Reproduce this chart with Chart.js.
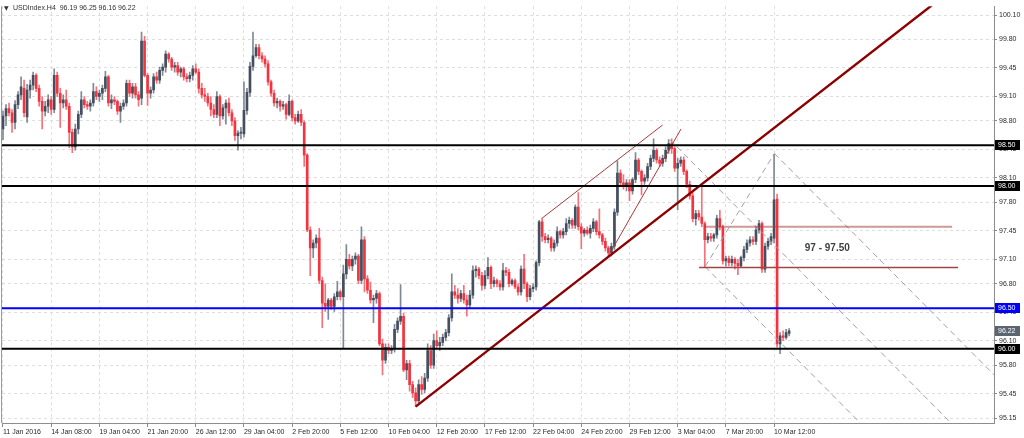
<!DOCTYPE html>
<html><head><meta charset="utf-8">
<script src="https://cdn.jsdelivr.net/npm/chart.js@4.4.1/dist/chart.umd.min.js"></script>
<style>html,body{margin:0;padding:0;background:#fff;}#wrap{width:1024px;height:438px;}</style>
</head><body><div id="wrap"><canvas id="c" width="1024" height="438"></canvas></div>
<script>
const symbol = 'USDIndex.H4';
const opens = [
98.70,98.86,98.95,98.90,98.78,99.00,99.12,99.20,98.85,99.18,
99.24,99.36,99.20,99.04,98.92,98.98,99.06,98.94,99.36,99.14,
99.02,99.06,98.98,98.66,98.48,98.70,98.88,99.06,99.00,98.98,
99.02,99.16,99.10,99.14,99.20,99.34,99.02,99.06,99.04,98.92,
98.98,99.02,99.26,99.14,99.22,99.12,99.08,99.78,99.36,99.14,
99.18,99.34,99.30,99.42,99.46,99.62,99.56,99.46,99.48,99.40,
99.44,99.34,99.32,99.36,99.44,99.40,99.20,99.12,99.10,99.02,
98.94,98.88,99.10,98.86,98.96,99.02,98.90,98.80,98.62,98.65,
98.64,98.93,99.15,99.47,99.60,99.70,99.60,99.56,99.50,99.28,
99.14,99.02,99.04,98.98,99.00,98.88,99.04,98.84,98.80,98.88,
98.78,98.38,97.46,97.24,97.30,97.36,96.84,96.56,96.52,96.60,
96.52,96.64,96.70,96.64,96.92,97.10,97.02,97.10,97.14,96.84,
97.34,96.86,96.72,96.60,96.62,96.68,96.06,95.86,96.02,95.98,
96.00,96.24,96.34,96.40,95.74,95.82,95.56,95.46,95.36,95.56,
95.50,95.64,95.98,95.80,96.10,96.04,96.08,96.14,96.20,96.38,
96.70,96.66,96.62,96.68,96.60,96.54,96.66,96.96,96.98,96.90,
96.78,96.90,97.00,96.80,96.84,96.80,96.76,96.96,96.94,96.80,
96.84,96.76,96.70,96.98,96.80,96.64,96.74,96.76,97.06,97.56,
97.38,97.34,97.36,97.24,97.30,97.44,97.40,97.44,97.54,97.58,
97.52,97.74,97.50,97.42,97.46,97.42,97.48,97.56,97.44,97.40,
97.32,97.24,97.18,97.26,97.68,98.16,98.04,98.00,98.04,97.94,
98.08,98.32,98.18,98.06,98.10,98.24,98.34,98.44,98.32,98.28,
98.34,98.44,98.52,98.46,98.22,98.28,98.32,98.18,98.02,97.88,
97.60,97.66,97.62,97.54,97.34,97.38,97.36,97.40,97.60,97.50,
97.08,97.11,97.06,97.10,97.05,97.02,97.12,97.22,97.30,97.34,
97.32,97.46,97.54,96.98,97.26,97.32,97.36,97.84,96.06,96.16,
96.14,96.19];
const highs = [
98.92,99.00,99.02,98.94,99.05,99.16,99.34,99.30,99.25,99.30,
99.40,99.38,99.24,99.10,99.04,99.12,99.10,99.44,99.40,99.20,
99.12,99.18,99.02,98.70,98.76,98.92,99.16,99.10,99.04,99.06,
99.26,99.22,99.18,99.24,99.41,99.36,99.12,99.10,99.06,99.02,
99.06,99.30,99.30,99.26,99.26,99.16,99.89,99.84,99.38,99.22,
99.38,99.40,99.46,99.50,99.66,99.64,99.58,99.52,99.52,99.46,
99.46,99.38,99.40,99.48,99.50,99.44,99.26,99.20,99.14,99.10,
99.00,99.16,99.12,99.00,99.06,99.08,98.94,98.84,98.68,98.72,
99.28,99.20,99.52,99.89,99.74,99.74,99.64,99.60,99.54,99.30,
99.18,99.08,99.06,99.04,99.02,99.12,99.06,98.88,98.92,98.94,
98.80,98.40,97.50,97.34,97.40,97.48,96.88,96.80,96.62,96.62,
96.68,96.83,96.72,97.03,97.28,97.16,97.14,97.18,97.16,97.50,
97.38,96.90,96.82,96.66,96.72,96.70,96.12,96.06,96.06,96.04,
96.30,96.38,96.79,96.44,95.86,95.86,95.60,95.52,95.62,95.66,
95.70,96.06,96.04,96.18,96.22,96.14,96.18,96.24,96.42,96.92,
96.78,96.74,96.72,96.78,96.66,96.72,97.02,97.02,97.00,96.94,
96.96,97.12,97.02,96.88,96.86,96.84,97.05,97.00,96.98,96.86,
96.86,96.80,97.02,97.16,96.82,96.78,96.80,97.08,97.58,97.60,
97.42,97.40,97.38,97.34,97.50,97.46,97.48,97.60,97.62,97.60,
97.77,97.92,97.54,97.48,97.50,97.52,97.60,97.58,97.72,97.42,
97.36,97.26,97.30,97.72,98.31,98.20,98.14,98.08,98.08,98.10,
98.41,98.34,98.20,98.14,98.28,98.38,98.58,98.46,98.36,98.38,
98.48,98.57,98.58,98.48,98.34,98.36,98.36,98.20,98.06,97.92,
97.70,97.70,98.02,97.56,97.42,97.42,97.42,97.64,97.70,97.52,
97.14,97.14,97.14,97.12,97.10,97.14,97.26,97.34,97.38,97.38,
97.50,97.58,97.56,97.30,97.36,97.42,98.39,97.90,96.20,96.22,
96.24,96.25];
const lows = [
98.57,98.74,98.86,98.66,98.70,98.95,99.06,98.85,98.78,99.08,
99.18,99.16,98.98,98.70,98.86,98.90,98.88,98.90,99.10,98.72,
98.96,98.94,98.47,98.41,98.44,98.64,98.84,98.96,98.94,98.92,
98.98,99.06,99.04,99.06,99.16,98.98,98.95,99.00,98.88,98.78,
98.94,98.98,99.10,99.08,99.08,98.98,99.00,99.34,98.99,99.08,
99.14,99.26,99.26,99.36,99.40,99.52,99.42,99.40,99.36,99.34,
99.30,99.28,99.28,99.30,99.38,99.14,99.08,99.04,98.98,98.86,
98.84,98.84,98.74,98.82,98.76,98.86,98.74,98.56,98.44,98.58,
98.60,98.88,99.10,99.42,99.58,99.56,99.52,99.46,99.24,99.10,
98.98,98.96,98.92,98.94,98.82,98.86,98.80,98.76,98.78,98.74,
98.24,97.44,96.90,97.12,97.24,96.80,96.26,96.46,96.36,96.48,
96.46,96.60,96.60,96.01,96.86,96.98,96.96,97.04,96.80,96.80,
96.70,96.68,96.56,96.32,96.56,96.04,95.68,95.82,95.94,95.94,
95.96,96.20,96.30,95.72,95.62,95.48,95.40,95.29,95.32,95.44,
95.46,95.60,95.76,95.76,96.00,95.98,96.04,96.10,96.16,96.34,
96.62,96.56,96.58,96.56,96.40,96.50,96.62,96.88,96.86,96.72,
96.74,96.86,96.74,96.76,96.76,96.72,96.72,96.90,96.76,96.78,
96.74,96.66,96.66,96.74,96.58,96.60,96.70,96.72,97.02,97.32,
97.30,97.30,97.20,97.20,97.26,97.36,97.36,97.40,97.48,97.48,
97.48,97.46,97.23,97.38,97.40,97.36,97.44,97.40,97.36,97.28,
97.20,97.14,97.14,97.22,97.64,98.00,97.96,97.94,97.82,97.90,
98.04,98.14,97.89,98.02,98.06,98.20,98.30,98.28,98.24,98.24,
98.30,98.40,98.40,98.18,97.71,98.24,98.14,97.98,97.84,97.56,
97.52,97.58,97.50,97.00,97.30,97.32,97.32,97.36,97.46,97.04,
97.02,97.02,97.02,96.98,96.91,97.00,97.08,97.18,97.26,97.28,
97.28,97.42,96.94,96.94,97.22,97.28,97.30,96.02,95.94,96.10,
96.12,96.16];
const closes = [
98.86,98.95,98.90,98.78,99.00,99.12,99.22,98.90,99.18,99.24,
99.36,99.20,99.04,98.92,98.98,99.06,98.94,99.36,99.14,99.02,
99.06,98.98,98.66,98.48,98.70,98.88,99.06,99.00,98.98,99.02,
99.16,99.10,99.14,99.20,99.34,99.02,99.06,99.04,98.92,98.98,
99.02,99.26,99.14,99.22,99.12,99.06,99.78,99.36,99.14,99.18,
99.34,99.30,99.42,99.46,99.62,99.56,99.46,99.48,99.40,99.44,
99.34,99.32,99.36,99.44,99.40,99.20,99.12,99.10,99.02,98.94,
98.88,99.10,98.86,98.96,99.02,98.90,98.80,98.62,98.65,98.66,
98.93,99.15,99.47,99.60,99.70,99.60,99.56,99.50,99.28,99.14,
99.02,99.04,98.98,99.00,98.88,99.04,98.84,98.80,98.88,98.78,
98.38,97.46,97.24,97.30,97.36,96.84,96.56,96.52,96.60,96.52,
96.64,96.70,96.64,96.92,97.10,97.02,97.10,97.14,96.84,97.34,
96.86,96.72,96.60,96.62,96.68,96.06,95.86,96.02,95.98,96.00,
96.24,96.34,96.40,95.74,95.82,95.56,95.46,95.36,95.56,95.50,
95.64,95.98,95.80,96.10,96.04,96.08,96.14,96.20,96.38,96.70,
96.66,96.62,96.68,96.60,96.54,96.66,96.96,96.98,96.90,96.78,
96.90,97.00,96.80,96.84,96.80,96.76,96.96,96.94,96.80,96.84,
96.76,96.70,96.98,96.80,96.64,96.74,96.76,97.06,97.56,97.38,
97.34,97.36,97.24,97.30,97.44,97.40,97.44,97.54,97.58,97.52,
97.74,97.50,97.42,97.46,97.42,97.48,97.56,97.44,97.40,97.32,
97.24,97.18,97.26,97.68,98.16,98.04,98.00,98.04,97.94,98.08,
98.32,98.18,98.06,98.10,98.24,98.34,98.44,98.32,98.28,98.34,
98.44,98.52,98.46,98.22,98.28,98.32,98.18,98.02,97.88,97.60,
97.66,97.62,97.54,97.34,97.38,97.36,97.40,97.60,97.50,97.08,
97.11,97.06,97.10,97.05,97.02,97.12,97.22,97.30,97.34,97.32,
97.46,97.54,96.98,97.26,97.32,97.38,97.83,96.06,96.16,96.14,
96.20,96.22];

const xTickBars = [0,16,32,48,64,80,96,112,128,144,160,176,192,208,224,240,256];
const xLabels = ['11 Jan 2016','14 Jan 08:00','19 Jan 04:00','21 Jan 20:00','26 Jan 12:00','29 Jan 04:00','2 Feb 20:00','5 Feb 12:00','10 Feb 04:00','12 Feb 20:00','17 Feb 12:00','22 Feb 04:00','24 Feb 20:00','29 Feb 12:00','3 Mar 04:00','7 Mar 20:00','10 Mar 12:00'];
const yTicks = [95.15,95.45,95.80,96.10,96.45,96.80,97.10,97.45,97.80,98.10,98.45,98.80,99.10,99.45,99.80,100.10];

const levelPrices = [98.50, 98.00, 96.50, 96.00];
const levelColors = ['#000000','#000000','#0000ff','#000000'];
const markerPrices = [98.50, 98.00, 96.50, 96.22, 96.00];
const markerColors = ['#000000','#000000','#0000ff','#5b6570','#000000'];

const zonePrices = [97.50, 97.00];
const zoneStartBars = [232.7, 231.1];
const zoneEndBars = [315.1, 317.1];
const zoneColors = ['rgba(165,70,70,0.55)', '#a04545'];
const zoneLabel = '97 - 97.50';
const zoneLabelBar = 266.2;
const zoneLabelPrice = 97.23;

const trendBars = [137, 315];
const trendPrices = [95.29, 100.41];
const channelUpperBars = [178.8, 219.0];
const channelUpperPrices = [97.60, 98.75];
const channelLowerBars = [201.0, 225.1];
const channelLowerPrices = [97.14, 98.70];
const pitchforkBars = [221.4, 233.1, 256.1];
const pitchforkPrices = [98.57, 97.01, 98.40];

const X_MIN = -0.332, X_MAX = 329.02, Y_MIN = 95.089, Y_MAX = 100.209;
const FONT = '"Liberation Sans", Arial, "DejaVu Sans", sans-serif';
const BULL = '#434e5e', BEAR = '#f3343f', BULL_WICK = '#7f8894', BEAR_WICK = '#f6717a';

const idx = opens.map((_, i) => i);
const isBull = idx.map(i => closes[i] >= opens[i]);
const wickData = idx.map(i => ({x: i, y: [lows[i], highs[i]]}));
const bodyData = idx.map(i => ({x: i, y: [Math.min(opens[i], closes[i]), Math.max(opens[i], closes[i])]}));

function seg(b1, p1, b2, p2) { return [{x: b1, y: p1}, {x: b2, y: p2}]; }
function lineDs(data, color, width, dash) {
  return {type: 'line', data, borderColor: color, borderWidth: width, borderDash: dash || [],
    pointRadius: 0, fill: false, tension: 0, clip: 0, order: 1};
}

const datasets = [
  {type: 'bar', data: wickData, backgroundColor: idx.map(i => isBull[i] ? BULL_WICK : BEAR_WICK),
   barThickness: 1, grouped: false, borderWidth: 0, order: 20},
  {type: 'bar', data: bodyData, backgroundColor: idx.map(i => isBull[i] ? BULL : BEAR),
   barThickness: 2, grouped: false, borderWidth: 0, minBarLength: 1, order: 19}
];
levelPrices.forEach((p, k) => datasets.push(lineDs(seg(X_MIN - 5, p, X_MAX + 5, p), levelColors[k], 2)));
zonePrices.forEach((p, k) => datasets.push(lineDs(seg(zoneStartBars[k], p, zoneEndBars[k], p), zoneColors[k], k === 0 ? 2 : 1.5)));
datasets.push(lineDs(seg(trendBars[0], trendPrices[0], trendBars[1], trendPrices[1]), '#8b0000', 2.4));
datasets.push(lineDs(seg(channelUpperBars[0], channelUpperPrices[0], channelUpperBars[1], channelUpperPrices[1]), '#a83a3a', 1));
datasets.push(lineDs(seg(channelLowerBars[0], channelLowerPrices[0], channelLowerBars[1], channelLowerPrices[1]), '#a83a3a', 1));
(function () {
  const [b0, b1, b2] = pitchforkBars, [p0, p1, p2] = pitchforkPrices;
  const slope = ((p1 + p2) / 2 - p0) / ((b1 + b2) / 2 - b0);
  const far = 420, col = '#a0a0a0', dash = [6, 4];
  datasets.push(lineDs(seg(b0, p0, far, p0 + slope * (far - b0)), col, 1, dash));
  datasets.push(lineDs(seg(b1, p1, far, p1 + slope * (far - b1)), col, 1, dash));
  datasets.push(lineDs(seg(b2, p2, far, p2 + slope * (far - b2)), col, 1, dash));
  datasets.push(lineDs(seg(b1, p1, b2, p2), col, 1, dash));
})();

const annot = {
  id: 'annot',
  afterDraw(chart) {
    const {ctx, chartArea: a, scales: {x, y}} = chart;
    ctx.save();
    ctx.strokeStyle = '#9a9a9a'; ctx.lineWidth = 1;
    ctx.beginPath(); ctx.moveTo(a.left - 0.5, a.top); ctx.lineTo(a.left - 0.5, a.bottom); ctx.stroke();
    ctx.font = 'bold 10px ' + FONT; ctx.fillStyle = '#404040';
    ctx.textBaseline = 'middle'; ctx.textAlign = 'left';
    ctx.fillText(zoneLabel, x.getPixelForValue(zoneLabelBar), y.getPixelForValue(zoneLabelPrice));
    const n = opens.length - 1;
    ctx.fillStyle = '#303030';
    ctx.font = '6px "DejaVu Sans", sans-serif';
    ctx.fillText('\u25BC', 4, 8);
    ctx.font = '7px ' + FONT;
    ctx.fillText(symbol + '  ' + [opens[n], highs[n], lows[n], closes[n]].map(v => v.toFixed(2)).join(' '), 13, 8);
    markerPrices.forEach((p, k) => {
      const py = Math.round(y.getPixelForValue(p));
      ctx.fillStyle = markerColors[k];
      ctx.fillRect(a.right + 1, py - 5, 25, 10);
      ctx.fillStyle = '#ffffff';
      ctx.fillText(p.toFixed(2), a.right + 4, py + 0.5);
    });
    ctx.restore();
  }
};

new Chart(document.getElementById('c'), {
  type: 'line',
  data: {datasets},
  options: {
    responsive: false, animation: false, devicePixelRatio: 1, events: [],
    layout: {autoPadding: false, padding: {left: 2, top: 2, right: 0, bottom: 0}},
    plugins: {legend: {display: false}, tooltip: {enabled: false}, title: {display: false}},
    scales: {
      x: {
        type: 'linear', min: X_MIN, max: X_MAX, position: 'bottom', offset: false,
        afterBuildTicks: s => { s.ticks = xTickBars.map(v => ({value: v})); },
        afterFit: s => { s.height = 15; },
        ticks: {autoSkip: false, maxRotation: 0, minRotation: 0, align: 'start', padding: 1,
          font: {family: FONT, size: 7}, color: '#2a2a2a',
          callback: (v, i) => xLabels[i]},
        grid: {offset: false, color: '#dedede', tickColor: '#8a8a8a', tickLength: 4, drawTicks: true},
        border: {display: true, color: '#8c8c8c', width: 1, dash: [3, 3]}
      },
      y: {
        type: 'linear', position: 'right', min: Y_MIN, max: Y_MAX, offset: false,
        afterBuildTicks: s => { s.ticks = yTicks.map(v => ({value: v})); },
        afterFit: s => { s.width = 30; },
        ticks: {padding: 2, font: {family: FONT, size: 7}, color: '#2a2a2a',
          callback: v => Number(v).toFixed(2)},
        grid: {offset: false, color: '#dedede', tickColor: '#8a8a8a', tickLength: 3, drawTicks: true},
        border: {display: true, color: '#8c8c8c', width: 1, dash: [3, 3]}
      }
    }
  },
  plugins: [annot]
});
</script>
</body></html>
